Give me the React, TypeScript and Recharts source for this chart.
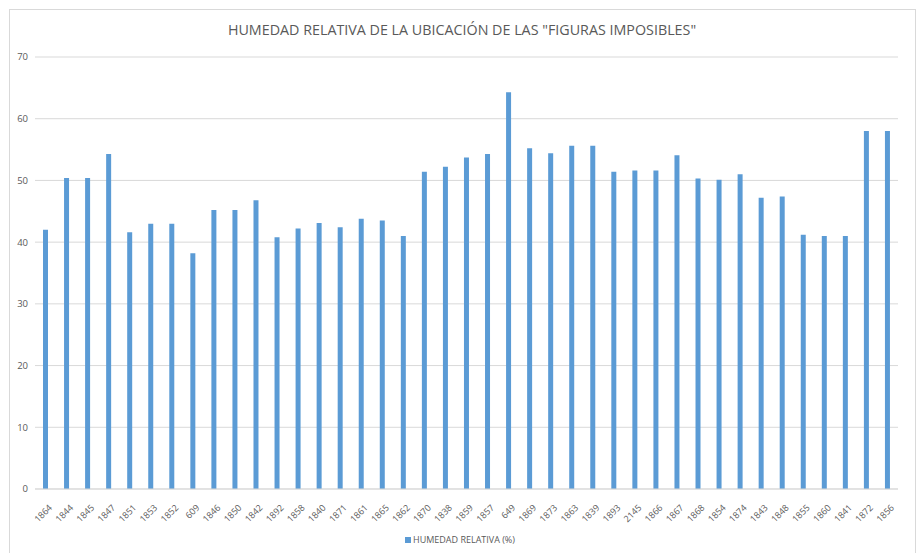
import React from 'react';
import { BarChart, Bar, XAxis, YAxis, CartesianGrid, Legend } from 'recharts';

// Station codes along the x axis
const stations = [
  "1864", "1844", "1845", "1847", "1851", "1853", "1852", "609", "1846", "1850",
  "1842", "1892", "1858", "1840", "1871", "1861", "1865", "1862", "1870", "1838",
  "1859", "1857", "649", "1869", "1873", "1863", "1839", "1893", "2145", "1866",
  "1867", "1868", "1854", "1874", "1843", "1848", "1855", "1860", "1841", "1872",
  "1856",
];

// Relative humidity (%) per station
const humidity = [
  42.0, 50.4, 50.4, 54.3, 41.6, 43.0, 43.0, 38.2, 45.2, 45.2,
  46.8, 40.8, 42.2, 43.1, 42.4, 43.8, 43.5, 41.0, 51.4, 52.2,
  53.7, 54.3, 64.3, 55.2, 54.4, 55.6, 55.6, 51.4, 51.6, 51.6,
  54.1, 50.3, 50.1, 51.0, 47.2, 47.4, 41.2, 41.0, 41.0, 58.0,
  58.0,
];

const yTicks = [0, 10, 20, 30, 40, 50, 60, 70];

const seriesName = "HUMEDAD RELATIVA (%)";
const FONT = "'Open Sans', 'Noto Sans', sans-serif";
const TEXT = '#595959';
const BLUE = '#5b9bd5';

const data = stations.map((station, i) => ({ station, value: humidity[i] }));

// rotated category label
const StationTick = (props: any) => {
  const { x, y, payload } = props;
  return (
    <g transform={`translate(${x + 5},${y + 9})`}>
      <text
        transform="rotate(-45)"
        textAnchor="end"
        dy="0.35em"
        fontSize={9}
        fontFamily={FONT}
        fill={TEXT}
      >
        {payload.value}
      </text>
    </g>
  );
};

const LegendBox = () => (
  <div style={{ display: 'flex', justifyContent: 'center', alignItems: 'center', fontFamily: FONT, fontSize: 9, color: TEXT }}>
    <span style={{ display: 'inline-block', width: 6, height: 6, background: BLUE, marginRight: 2 }} />
    <span>{seriesName}</span>
  </div>
);

export default function App() {
  return (
    <div style={{ position: 'absolute', left: 0, top: 0, width: 920, height: 553, background: '#fff', overflow: 'hidden' }}>
      {/* chart frame */}
      <div style={{ position: 'absolute', left: 9, top: 9, width: 905, height: 560, border: '1px solid #d9d9d9' }} />
      <div style={{ position: 'absolute', left: 2, top: 20, width: 920, textAlign: 'center', fontFamily: FONT, fontSize: 14.3, color: TEXT }}>
        HUMEDAD RELATIVA DE LA UBICACIÓN DE LAS "FIGURAS IMPOSIBLES"
      </div>
      <div style={{ position: 'absolute', left: 0, top: 0 }}>
        <BarChart width={920} height={553} data={data} margin={{ top: 57, right: 22, bottom: 0, left: 0 }}>
          <CartesianGrid vertical={false} stroke="#d9d9d9" />
          <XAxis
            dataKey="station"
            height={64}
            interval={0}
            tickLine={false}
            axisLine={{ stroke: '#d9d9d9' }}
            tick={<StationTick />}
          />
          <YAxis
            width={35}
            domain={[0, 70]}
            ticks={yTicks}
            axisLine={false}
            tickLine={false}
            tickSize={0}
            tickMargin={7}
            tick={{ fontSize: 9.5, fill: TEXT, fontFamily: FONT }}
          />
          <Legend
            layout="horizontal"
            verticalAlign="middle"
            align="center"
            wrapperStyle={{ top: 533, left: 0, width: 920 }}
            content={<LegendBox />}
          />
          <Bar dataKey="value" name={seriesName} fill={BLUE} barSize={5} isAnimationActive={false} />
        </BarChart>
      </div>
    </div>
  );
}
